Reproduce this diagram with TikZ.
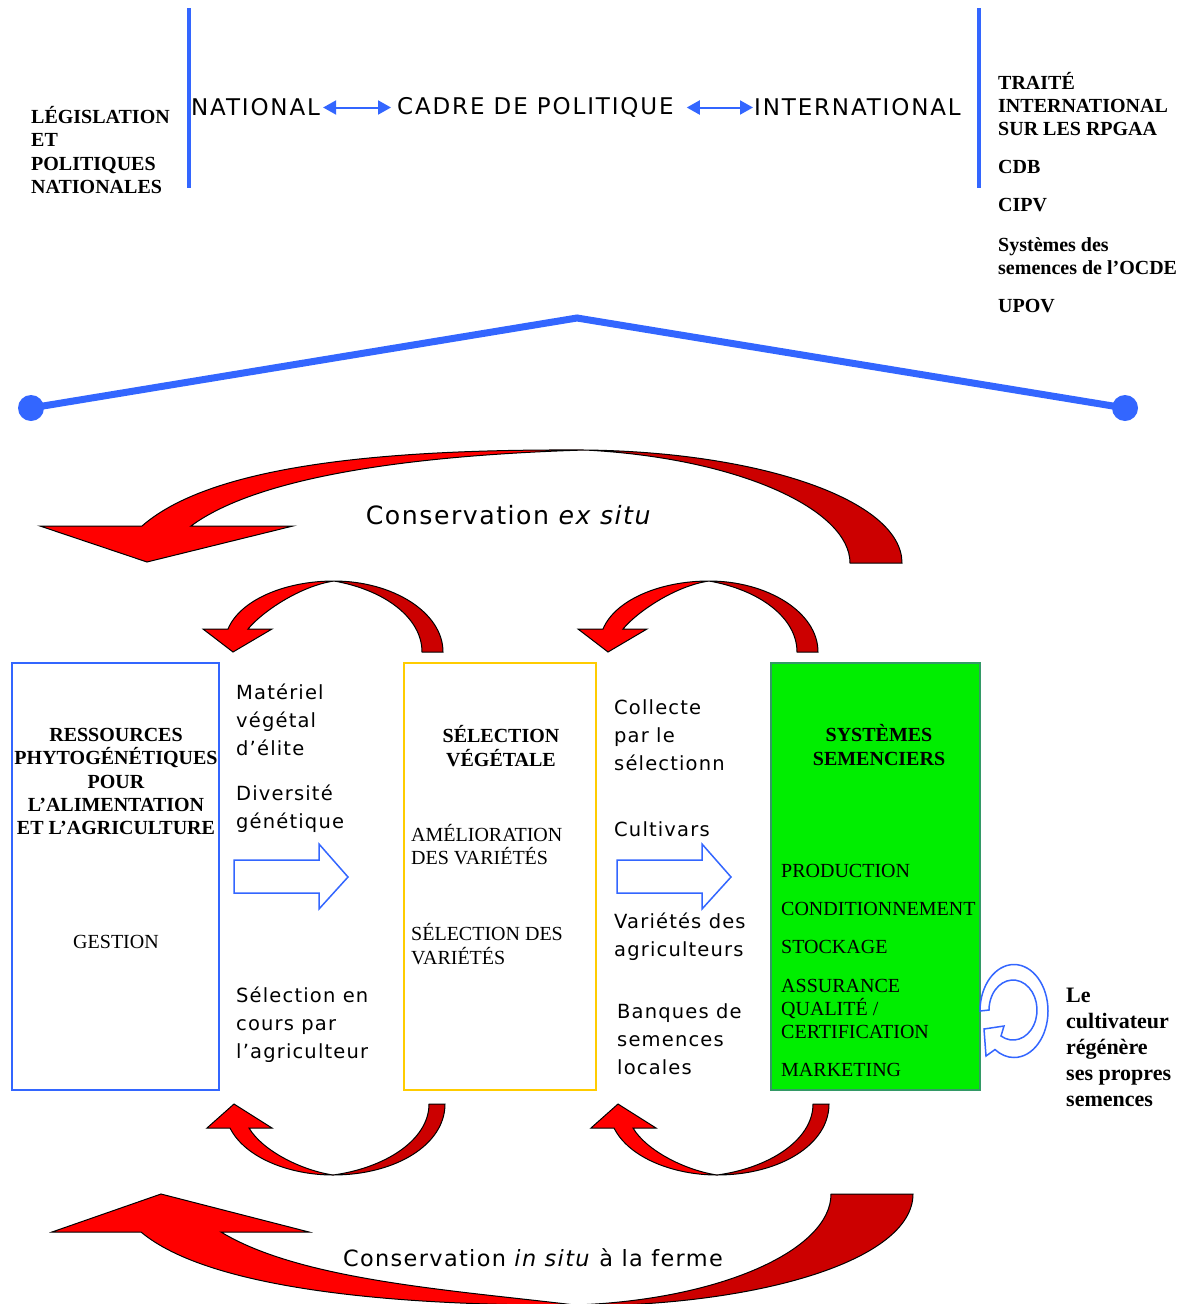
\documentclass[tikz,border=0pt]{standalone}
\usepackage{fontspec}
\setmainfont{Liberation Serif}
\newfontfamily\sidefont[LetterSpace=6]{DejaVu Sans}
\newfontfamily\levelfont[LetterSpace=8]{DejaVu Sans}
\usetikzlibrary{arrows.meta, positioning}
\definecolor{linkblue}{RGB}{51,102,255}
\definecolor{brightred}{RGB}{255,0,0}
\definecolor{darkred}{RGB}{204,0,0}
\definecolor{seedgreen}{RGB}{0,238,0}
\definecolor{seededge}{RGB}{51,153,102}
\definecolor{boxyellow}{RGB}{255,204,0}

\begin{document}
\begin{tikzpicture}[x=1pt, y=-1pt,
    every node/.style={inner sep=0pt},
    title/.style={font=\fontsize{20}{23.3}\selectfont\bfseries, align=center},
    caps/.style={font=\fontsize{20}{23.3}\selectfont, align=left, anchor=west},
    side/.style={font=\fontsize{19.5}{28}\selectfont\sidefont, align=left, anchor=west},
    level/.style={font=\fontsize{23}{26}\selectfont\levelfont, anchor=west},
    cons/.style={font=\fontsize{#1}{28}\selectfont\sidefont},
    boxframe/.style={draw, rectangle, line width=1.5pt, minimum width=#1,
                     minimum height=427pt},
    divider/.style={draw=linkblue, line width=4pt},
    roof/.style={draw=linkblue, line width=7pt},
    dot/.style={circle, fill=linkblue, minimum size=26pt},
    dbl/.style={{Triangle[length=13pt, width=14pt]}-{Triangle[length=13pt, width=14pt]},
                draw=linkblue, line width=2pt},
    lightpart/.style={fill=brightred, draw=black, line width=1pt},
    darkpart/.style={fill=darkred, draw=black, line width=1pt},
    flow/.style={draw=linkblue, line width=1.5pt, fill=white},
    regenarrow/.style={draw=linkblue, line width=1.5pt, fill=white}
]
\useasboundingbox (0,0) rectangle (1188,1304);

% policy frame
\node[caps, font=\fontsize{20}{23.3}\selectfont\bfseries] (legis) at (31,150)
    {LÉGISLATION\\ET\\POLITIQUES\\NATIONALES};
\draw[divider] (189,8) -- (189,188);
\draw[divider] (979,8) -- (979,188);
\node[level] (nat)    at (191,107.5) {NATIONAL};
\node[level] (cadre)  at (397,107.5) {CADRE DE POLITIQUE};
\node[level] (inter)  at (754,107.5) {INTERNATIONAL};
\draw[dbl, shorten <=3pt, shorten >=6pt] (nat.east) -- (cadre.west);
\draw[dbl, shorten <=13pt, shorten >=1pt] (cadre.east) -- (inter.west);
\node[caps, font=\fontsize{20}{23}\selectfont\bfseries] (traites) at (998,193)
    {TRAITÉ\\INTERNATIONAL\\SUR LES RPGAA\\[15pt]CDB\\[15pt]CIPV\\[17pt]Systèmes des\\semences de l’OCDE\\[15pt]UPOV};

\node[dot] (roofL) at (31,408) {};
\node[dot] (roofR) at (1125,408) {};
\coordinate (apex) at (577,318);
\draw[roof] (roofL.center) -- (apex) -- (roofR.center);

% conservation ex situ
\filldraw[lightpart] (40,526) -- (147,562) -- (293,526) -- (191,526)
    .. controls (260,475) and (420,455) .. (585,450)
    .. controls (400,449) and (215,462) .. (142,526) -- cycle;
\filldraw[darkpart] (585,450) .. controls (760,452) and (902,500) .. (902,563)
    -- (850,563) .. controls (850,510) and (740,458) .. (585,450) -- cycle;
\node[cons=25.2] (exsitu) at (509,515) {Conservation \textit{ex situ}};

\foreach \dx in {0,375} {
  \begin{scope}[xshift=\dx pt]
    \filldraw[lightpart] (203,629) -- (233,652) -- (272,629) -- (248,629)
        .. controls (262,612) and (300,586) .. (334,581)
        .. controls (285,581) and (240,600) .. (228,629) -- cycle;
    \filldraw[darkpart] (334,581) .. controls (392,581) and (443,612) .. (443,652)
        -- (422,652) .. controls (422,618) and (385,590) .. (334,581) -- cycle;
  \end{scope}
}

% the three boxes
\node[boxframe=207pt, draw=linkblue] (rpgaa) at (115.5,876.5) {};
\node[boxframe=192pt, draw=boxyellow] (selection) at (500,876.5) {};
\node[boxframe=209pt, draw=seededge, fill=seedgreen] (semences) at (875.5,876.5) {};

\node[title] (rpgaatitle) at (116,781.5)
    {RESSOURCES\\PHYTOGÉNÉTIQUES\\POUR\\L’ALIMENTATION\\ET L’AGRICULTURE};
\node[font=\fontsize{20}{23.3}\selectfont] (gestion) at (116,942) {GESTION};

\node[title] (seltitle) at (501,746) {SÉLECTION\\VÉGÉTALE};
\node[caps] (amelio) at (411,844.5) {AMÉLIORATION\\DES VARIÉTÉS};
\node[caps] (selvar) at (411,944) {SÉLECTION DES\\VARIÉTÉS};

\node[title] (semtitle) at (879,745) {SYSTÈMES\\SEMENCIERS};
\node[caps] (stages) at (781,970.5)
    {PRODUCTION\\[15pt]CONDITIONNEMENT\\[15pt]STOCKAGE\\[15pt]ASSURANCE\\QUALITÉ /\\CERTIFICATION\\[15pt]MARKETING};

% flows between boxes
\node[side] (elite)  at (236,719.5) {Matériel\\végétal\\d’élite};
\node[side] (divers) at (236,808.5) {Diversité\\génétique};
\begin{scope}
  \clip (230,960) rectangle (400,1061);
  \node[side] (encours) at (236,1024.5) {Sélection en\\cours par\\l’agriculteur};
\end{scope}
\node[side] (collecte) at (614,735)   {Collecte\\par le\\sélectionn};
\node[side] (cultiv)   at (614,829.5) {Cultivars};
\node[side] (varagri)  at (614,936.5) {Variétés des\\agriculteurs};
\node[side] (banques)  at (617,1039.5) {Banques de\\semences\\locales};

\foreach \dx in {0,383} {
  \begin{scope}[xshift=\dx pt]
    \draw[flow] (234,860) -- (319,860) -- (319,844) -- (348,877) -- (319,909)
        -- (319,893) -- (234,893) -- cycle;
  \end{scope}
}

% farmer saves seed
\draw[regenarrow] (980,1011) arc[start angle=180, end angle=484, x radius=34, y radius=46.5]
    -- (986,1056) -- (984,1029) -- (1004,1026) -- (1001,1036)
    arc[start angle=480, end angle=180, x radius=24, y radius=30] -- cycle;
\node[caps, font=\fontsize{22}{26}\selectfont\bfseries] (regen) at (1066,1047)
    {Le\\cultivateur\\régénère\\ses propres\\semences};

% conservation in situ
\foreach \dx in {0,384} {
  \begin{scope}[xshift=\dx pt]
    \filldraw[lightpart] (234,1104) -- (272,1128) -- (249,1128)
        .. controls (262,1150) and (300,1170) .. (333,1175)
        .. controls (290,1175) and (245,1158) .. (230,1128) -- (207,1128) -- cycle;
    \filldraw[darkpart] (333,1175) .. controls (395,1175) and (445,1145) .. (445,1104)
        -- (429,1104) .. controls (429,1140) and (385,1168) .. (333,1175) -- cycle;
  \end{scope}
}
\filldraw[lightpart] (161,1194) -- (309,1232) -- (221,1232)
    .. controls (300,1280) and (450,1290) .. (575,1305)
    .. controls (400,1306) and (210,1290) .. (141,1232) -- (52,1232) -- cycle;
\filldraw[darkpart] (575,1305) .. controls (720,1300) and (831,1250) .. (831,1194)
    -- (913,1194) .. controls (913,1260) and (760,1306) .. (575,1306) -- cycle;
\node[cons=22.4] (insitu) at (533,1258) {Conservation \textit{in situ} à la ferme};
\end{tikzpicture}
\end{document}
